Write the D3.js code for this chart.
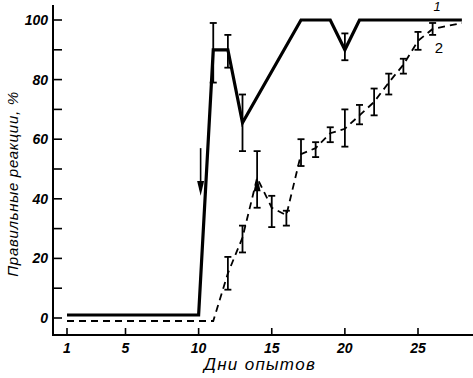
<!DOCTYPE html>
<html>
<head>
<meta charset="utf-8">
<script src="https://cdn.jsdelivr.net/npm/d3@7"></script>
<style>
  body { margin: 0; background: #fff; }
  text { font-family: "Liberation Sans", Arial, sans-serif; font-style: italic; }
</style>
</head>
<body>
<div id="chart"></div>
<script>
// curve 1 (solid) - days and % correct
const days1 = [1, 10, 11, 12, 13, 17, 19, 20, 21, 28];
const vals1 = [1, 1, 90, 90, 65.5, 100, 100, 90, 100, 100];
// error bars of curve 1: day, low, high
const errDays1 = [11, 12, 13, 20];
const errLow1 = [79, 84, 56, 86.5];
const errHigh1 = [99, 95, 75, 95.5];

// curve 2 (dashed)
const days2 = [1, 11, 12, 13, 14, 15, 16, 17, 18, 19, 20, 21, 22, 23, 24, 25, 26, 28];
const vals2 = [-1, -1, 15, 27, 47, 37, 34.5, 55, 57, 62, 63.5, 68, 72.5, 79, 85, 93, 97, 99];
const errDays2 = [12, 13, 14, 15, 16, 17, 18, 19, 20, 21, 22, 23, 24, 25, 26];
const errLow2 = [9.5, 22, 37, 30.5, 31, 51, 54, 59, 57.5, 65, 68, 75, 82, 90, 95];
const errHigh2 = [20.5, 31, 56, 41, 36, 60, 59, 64, 70, 71.5, 77, 82, 87, 96, 99];

const xTicks = [1, 5, 10, 15, 20, 25];
const yTicks = [0, 10, 20, 30, 40, 50, 60, 70, 80, 90, 100];
const yLabels = [0, 20, 40, 60, 80, 100];

const width = 473, height = 378;

const svg = d3.select('#chart')
  .append('svg')
  .attr('width', width)
  .attr('height', height);

const x = d3.scaleLinear().domain([1, 25]).range([67, 418]);
const y = d3.scaleLinear().domain([0, 100]).range([318, 20]);

const axisX = 53, axisY = 335;

// axes lines
svg.append('line')
  .attr('x1', axisX).attr('x2', axisX)
  .attr('y1', 5).attr('y2', axisY + 1)
  .attr('stroke', '#000').attr('stroke-width', 2);
svg.append('line')
  .attr('x1', axisX - 1).attr('x2', width)
  .attr('y1', axisY).attr('y2', axisY)
  .attr('stroke', '#000').attr('stroke-width', 2);

// y ticks (pointing inward)
svg.selectAll('.ytick')
  .data(yTicks)
  .enter()
  .append('line')
  .attr('x1', axisX).attr('x2', axisX + 9)
  .attr('y1', (d) => y(d)).attr('y2', (d) => y(d))
  .attr('stroke', '#000').attr('stroke-width', 1.6);

svg.selectAll('.ylab')
  .data(yLabels)
  .enter()
  .append('text')
  .attr('x', 48)
  .attr('y', (d) => y(d) + 5)
  .attr('text-anchor', 'end')
  .style('font-size', '14px')
  .style('font-weight', 'bold')
  .text((d) => d);

// x ticks
svg.selectAll('.xtick')
  .data(xTicks)
  .enter()
  .append('line')
  .attr('x1', (d) => x(d)).attr('x2', (d) => x(d))
  .attr('y1', axisY).attr('y2', axisY - 7)
  .attr('stroke', '#000').attr('stroke-width', 1.6);

svg.selectAll('.xlab')
  .data(xTicks)
  .enter()
  .append('text')
  .attr('x', (d) => x(d))
  .attr('y', 353)
  .attr('text-anchor', 'middle')
  .style('font-size', '14px')
  .style('font-weight', 'bold')
  .text((d) => d);

// axis titles
svg.append('text')
  .attr('x', 260)
  .attr('y', 370)
  .attr('text-anchor', 'middle')
  .style('font-size', '17px')
  .style('letter-spacing', '1.3px')
  .text('Дни опытов');

svg.append('text')
  .attr('transform', 'rotate(-90)')
  .attr('x', -184)
  .attr('y', 18)
  .attr('text-anchor', 'middle')
  .style('font-size', '15px')
  .style('letter-spacing', '0.7px')
  .text('Правильные реакции, %');

const line = d3.line().x((d) => x(d[0])).y((d) => y(d[1]));

// curve 2 dashed
svg.append('path')
  .datum(d3.zip(days2, vals2))
  .attr('d', line)
  .attr('fill', 'none')
  .attr('stroke', '#000')
  .attr('stroke-width', 1.8)
  .attr('stroke-dasharray', '7,5');

// curve 1 solid
svg.append('path')
  .datum(d3.zip(days1, vals1))
  .attr('d', line)
  .attr('fill', 'none')
  .attr('stroke', '#000')
  .attr('stroke-width', 3.2)
  .attr('stroke-linejoin', 'miter');

// error bars
function errBars(ds, lo, hi) {
  const g = svg.append('g').attr('stroke', '#000').attr('stroke-width', 1.8);
  const data = d3.zip(ds, lo, hi);
  g.selectAll('.v').data(data).enter().append('line')
    .attr('x1', (d) => x(d[0])).attr('x2', (d) => x(d[0]))
    .attr('y1', (d) => y(d[1])).attr('y2', (d) => y(d[2]));
  g.selectAll('.t').data(data).enter().append('line')
    .attr('x1', (d) => x(d[0]) - 3.5).attr('x2', (d) => x(d[0]) + 3.5)
    .attr('y1', (d) => y(d[2])).attr('y2', (d) => y(d[2]));
  g.selectAll('.b').data(data).enter().append('line')
    .attr('x1', (d) => x(d[0]) - 3.5).attr('x2', (d) => x(d[0]) + 3.5)
    .attr('y1', (d) => y(d[1])).attr('y2', (d) => y(d[1]));
}
errBars(errDays1, errLow1, errHigh1);
errBars(errDays2, errLow2, errHigh2);

// arrow down at day 10
const ax = x(10) + 2;
svg.append('line')
  .attr('x1', ax).attr('x2', ax)
  .attr('y1', y(57)).attr('y2', y(43))
  .attr('stroke', '#000').attr('stroke-width', 1.6);
svg.append('path')
  .attr('d', `M${ax - 3.5},${y(46)} L${ax + 3.5},${y(46)} L${ax},${y(41)} Z`)
  .attr('fill', '#000');

// arrow tip on curve 2 at day 14
svg.append('path')
  .attr('d', `M${x(14) - 3.5},${y(42.5)} L${x(14) + 3.5},${y(42.5)} L${x(14)},${y(47.5)} Z`)
  .attr('fill', '#000');

// curve labels
svg.append('text')
  .attr('x', 437).attr('y', 11)
  .attr('text-anchor', 'middle')
  .style('font-size', '13px')
  .text('1');
svg.append('text')
  .attr('x', 439).attr('y', 53)
  .attr('text-anchor', 'middle')
  .style('font-size', '15px')
  .style('font-style', 'normal')
  .text('2');
</script>
</body>
</html>
